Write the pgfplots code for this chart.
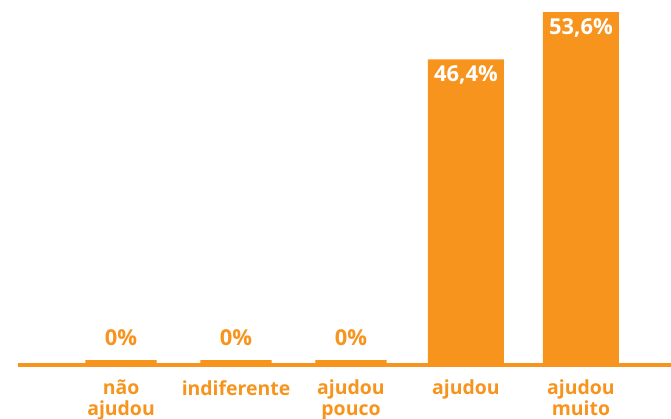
\documentclass[border=0pt]{standalone}
\usepackage{pgfplots}
\pgfplotsset{compat=1.18}
\usepackage{fontspec}
\setmainfont{Open Sans}
\definecolor{lar}{HTML}{F7941D}
\begin{document}
\begin{tikzpicture}[x=1bp,y=1bp]
\useasboundingbox (0,0) rectangle (671,418);
\clip (0,0) rectangle (671,418);
\begin{axis}[
  at={(18bp,53.3bp)}, anchor=south west,
  scale only axis, width=653bp, height=364.7bp,
  xmin=-0.896, xmax=4.783, ymin=0, ymax=55.43,
  axis x line=bottom, hide y axis,
  axis line style={-, draw=lar, line width=4bp},
  xtick={0,1,2,3,4},
  xticklabels={n\~ao\\ajudou, indiferente, ajudou\\pouco, ajudou, ajudou\\muito},
  xticklabel style={align=center, text=lar, font=\fontsize{19.5}{20.5}\selectfont\bfseries, yshift=-12bp},
  major tick length=0pt,
  ybar, bar width=76bp,
  point meta=explicit symbolic,
]
\addplot[bar shift=0pt, fill=lar, draw=none,
  nodes near coords,
  every node near coord/.style={anchor=north, text=white, font=\fontsize{22}{26}\selectfont\bfseries, yshift=-3bp}]
  coordinates {(3,46.4) [46,4\%] (4,53.6) [53,6\%]};
\addplot[bar shift=0pt, fill=lar, draw=lar, line width=4.7bp, bar width=71.3bp, yshift=2.3bp,
  nodes near coords,
  every node near coord/.style={anchor=south, text=lar, font=\fontsize{22}{26}\selectfont\bfseries, yshift=11bp}]
  coordinates {(0,0) [0\%] (1,0) [0\%] (2,0) [0\%]};
\end{axis}
\end{tikzpicture}
\end{document}
